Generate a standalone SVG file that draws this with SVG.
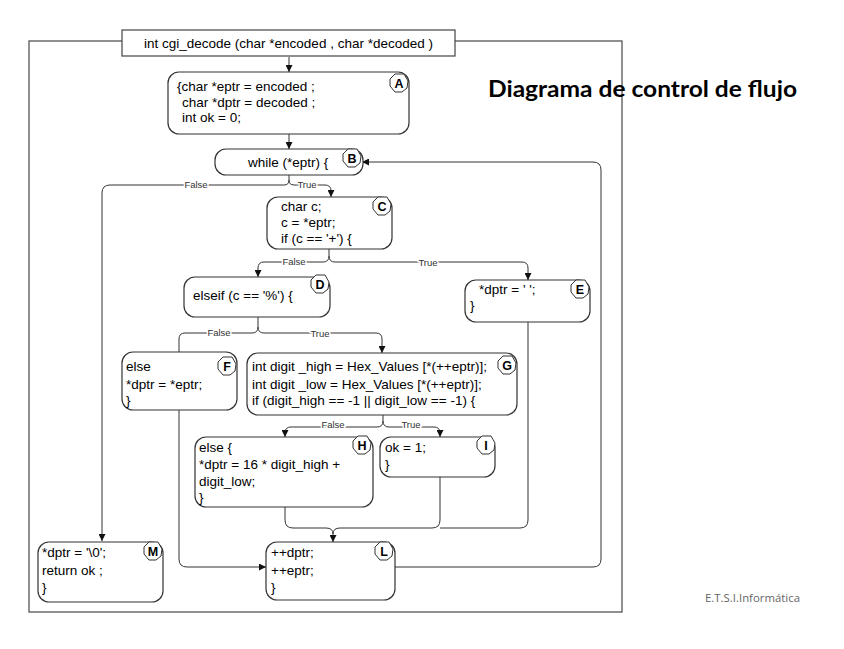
<svg xmlns="http://www.w3.org/2000/svg" xmlns:xlink="http://www.w3.org/1999/xlink" width="844" height="649" viewBox="0 0 844 649">
<style>
.frame{fill:none;stroke:#555;stroke-width:1.3}
.box{fill:#fff;stroke:#333;stroke-width:1.2}
.t{font-family:"Liberation Sans",Arial,sans-serif;font-size:13.5px;fill:#000}
.lb{font-family:"Liberation Sans",Arial,sans-serif;font-size:12.5px;font-weight:bold;fill:#000;text-anchor:middle}
.hx{fill:#fff;stroke:#333;stroke-width:1}
.c{fill:none;stroke:#333;stroke-width:1}
.bl{font-family:"Liberation Sans",Arial,sans-serif;font-size:9.5px;fill:#333;text-anchor:middle;stroke:#fff;stroke-width:3;paint-order:stroke}
</style>
<defs>
<marker id="ar" viewBox="0 0 8 8" refX="8" refY="4" markerWidth="7" markerHeight="7" markerUnits="userSpaceOnUse" orient="auto">
<path d="M0,0 L8,4 L0,8 Z" fill="#111"/>
</marker>
<path id="hex" d="M-4,-9 L5,-9 L9,-2 L8,5 L3,9 L-4,9 L-9,3 L-9,-4 Z"/>
</defs>
<rect width="844" height="649" fill="#fff"/>
<rect class="frame" x="29" y="41" width="593" height="571"/>
<g id="title">
<rect x="122" y="30" width="333" height="26" fill="#fff" stroke="#444" stroke-width="1.2"/>
<text class="t" x="288.5" y="48" text-anchor="middle">int cgi_decode (char *encoded , char *decoded )</text>
</g>
<g id="connectors">
<path class="c" d="M289,57 V72" marker-end="url(#ar)"/>
<path class="c" d="M289,134 V149" marker-end="url(#ar)"/>
<path class="c" d="M289,175 V180 Q289,185 284,185 H110 Q102,185 102,193 V541" marker-end="url(#ar)"/>
<path class="c" d="M289,180 Q289,185 294,185 H325 Q331,185 331,191 V197" marker-end="url(#ar)"/>
<path class="c" d="M329,249 V256 Q329,262 323,262 H264 Q258,262 258,268 V277" marker-end="url(#ar)"/>
<path class="c" d="M329,256 Q329,262 335,262 H522 Q528,262 528,268 V280" marker-end="url(#ar)"/>
<path class="c" d="M258,317 V327 Q258,333 252,333 H185 Q179,333 179,339 V352"/>
<path class="c" d="M258,327 Q258,333 264,333 H376 Q382,333 382,339 V353" marker-end="url(#ar)"/>
<path class="c" d="M383,415 V421 Q383,427 377,427 H291 Q285,427 285,433 V437" marker-end="url(#ar)"/>
<path class="c" d="M383,421 Q383,427 389,427 H434 Q440,427 440,433 V437" marker-end="url(#ar)"/>
<path class="c" d="M285,507 V520 Q285,528 293,528 H326 Q333,528 333,534 V542" marker-end="url(#ar)"/>
<path class="c" d="M440,477 V520 Q440,528 432,528 H340 Q333,528 333,534"/>
<path class="c" d="M528,322 V520 Q528,528 520,528 H440"/>
<path class="c" d="M179,410 V559 Q179,567 187,567 H266" marker-end="url(#ar)"/>
<path class="c" d="M395,567 H593 Q601,567 601,559 V170 Q601,162 593,162 H362" marker-end="url(#ar)"/>
<text class="bl" x="196" y="188">False</text>
<text class="bl" x="307" y="188">True</text>
<text class="bl" x="294" y="265">False</text>
<text class="bl" x="428" y="266">True</text>
<text class="bl" x="219" y="336">False</text>
<text class="bl" x="320" y="337">True</text>
<text class="bl" x="333" y="428">False</text>
<text class="bl" x="411" y="428">True</text>
</g>
<g id="A">
<rect class="box" x="168" y="72" width="241" height="62" rx="11"/>
<text class="t" x="177" y="91">{char *eptr = encoded ;</text>
<text class="t" x="182" y="107">char *dptr = decoded ;</text>
<text class="t" x="182" y="122">int ok = 0;</text>
<use href="#hex" class="hx" x="399" y="83"/><text class="lb" x="399" y="87.5">A</text>
</g>
<g id="B">
<rect class="box" x="215" y="149" width="148" height="26" rx="11"/>
<text class="t" x="248" y="167">while (*eptr) {</text>
<use href="#hex" class="hx" x="352" y="158"/><text class="lb" x="352" y="162.5">B</text>
</g>
<g id="C">
<rect class="box" x="267" y="197" width="125" height="52" rx="11"/>
<text class="t" x="281" y="211">char c;</text>
<text class="t" x="281" y="227">c = *eptr;</text>
<text class="t" x="281" y="243">if (c == '+') {</text>
<use href="#hex" class="hx" x="382" y="206"/><text class="lb" x="382" y="210.5">C</text>
</g>
<g id="D">
<rect class="box" x="184" y="277" width="146" height="40" rx="11"/>
<text class="t" x="193" y="300">elseif (c == '%') {</text>
<use href="#hex" class="hx" x="320" y="284"/><text class="lb" x="320" y="288.5">D</text>
</g>
<g id="E">
<rect class="box" x="465" y="280" width="125" height="42" rx="11"/>
<text class="t" x="479" y="294">*dptr = ' ';</text>
<text class="t" x="470" y="310">}</text>
<use href="#hex" class="hx" x="580" y="289"/><text class="lb" x="580" y="293.5">E</text>
</g>
<g id="F">
<rect class="box" x="122" y="352" width="115" height="58" rx="11"/>
<text class="t" x="126" y="371">else</text>
<text class="t" x="126" y="389">*dptr = *eptr;</text>
<text class="t" x="126" y="405">}</text>
<use href="#hex" class="hx" x="227" y="366"/><text class="lb" x="227" y="370.5">F</text>
</g>
<g id="G">
<rect class="box" x="247" y="353" width="270" height="62" rx="11"/>
<text class="t" x="252" y="371">int digit _high = Hex_Values [*(++eptr)];</text>
<text class="t" x="252" y="389">int digit _low = Hex_Values [*(++eptr)];</text>
<text class="t" x="252" y="405">if (digit_high  == -1 || digit_low == -1) {</text>
<use href="#hex" class="hx" x="507" y="365"/><text class="lb" x="507" y="369.5">G</text>
</g>
<g id="H">
<rect class="box" x="195" y="437" width="178" height="70" rx="11"/>
<text class="t" x="199" y="452">else {</text>
<text class="t" x="199" y="469">*dptr = 16 * digit_high +</text>
<text class="t" x="199" y="486">digit_low;</text>
<text class="t" x="199" y="502">}</text>
<use href="#hex" class="hx" x="362" y="445"/><text class="lb" x="362" y="449.5">H</text>
</g>
<g id="I">
<rect class="box" x="380" y="437" width="115" height="40" rx="11"/>
<text class="t" x="385" y="452">ok = 1;</text>
<text class="t" x="385" y="469">}</text>
<use href="#hex" class="hx" x="486" y="445"/><text class="lb" x="486" y="449.5">I</text>
</g>
<g id="L">
<rect class="box" x="266" y="542" width="129" height="58" rx="11"/>
<text class="t" x="271" y="557">++dptr;</text>
<text class="t" x="271" y="575">++eptr;</text>
<text class="t" x="271" y="592">}</text>
<use href="#hex" class="hx" x="384" y="551"/><text class="lb" x="384" y="555.5">L</text>
</g>
<g id="M">
<rect class="box" x="38" y="542" width="125" height="60" rx="11"/>
<text class="t" x="42" y="557">*dptr = '\0';</text>
<text class="t" x="42" y="575">return ok ;</text>
<text class="t" x="42" y="592">}</text>
<use href="#hex" class="hx" x="153" y="551"/><text class="lb" x="153" y="555.5">M</text>
</g>
<text x="488" y="97" font-family="Lato,'Open Sans',sans-serif" font-size="22" font-weight="bold" fill="#000" textLength="309" lengthAdjust="spacingAndGlyphs">Diagrama de control de flujo</text>
<text x="705" y="602" font-family="'Open Sans','Liberation Sans',sans-serif" font-size="10" fill="#666" textLength="95" lengthAdjust="spacingAndGlyphs">E.T.S.I.Informática</text>
</svg>
